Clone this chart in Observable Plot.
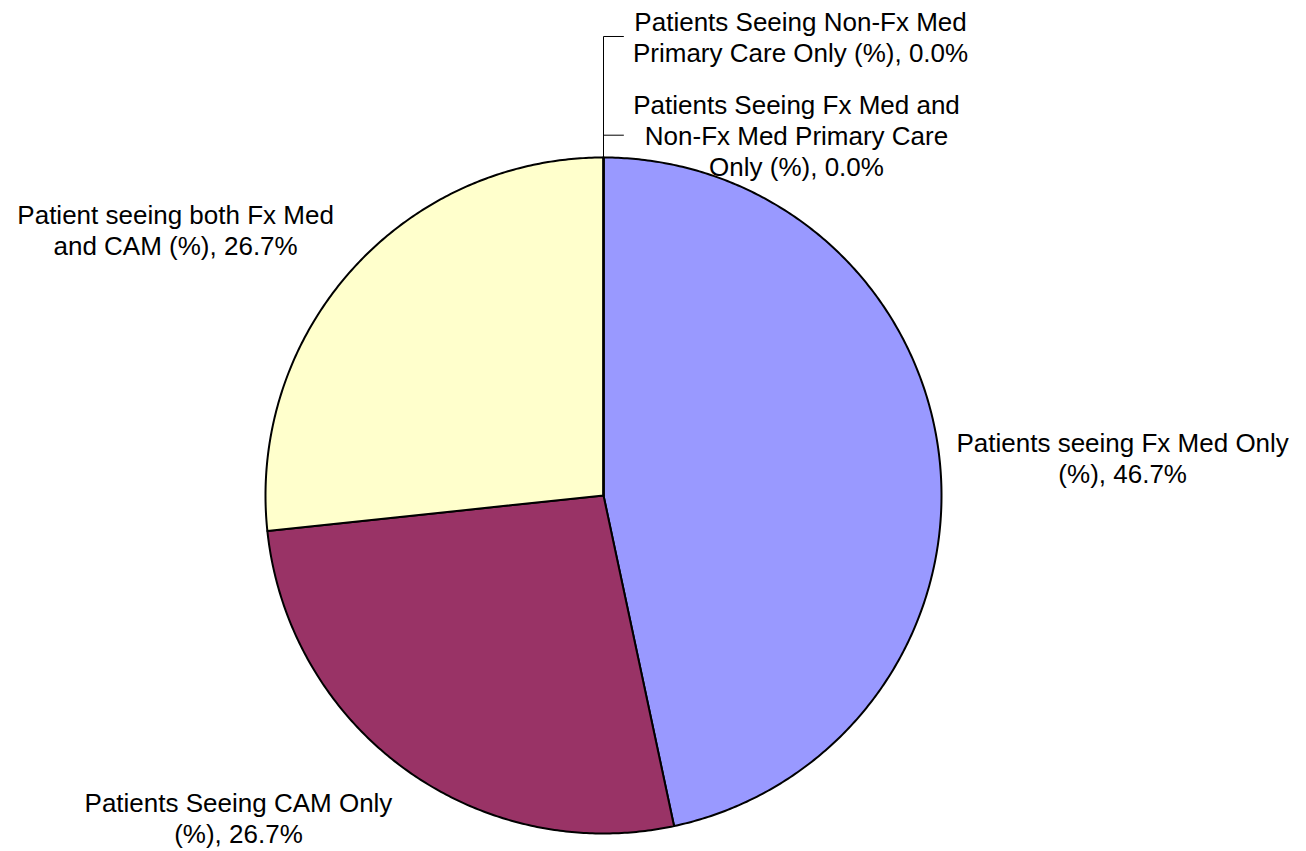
<!DOCTYPE html>
<html>
<head>
<meta charset="utf-8">
<script src="https://cdn.jsdelivr.net/npm/d3@7"></script>
<script src="https://cdn.jsdelivr.net/npm/@observablehq/plot@0.6"></script>
<style>
  html, body { margin: 0; padding: 0; background: #fff; }
  #chart svg { display: block; }
</style>
</head>
<body>
<div id="chart"></div>
<script>
// ---- data ----
const categories = [
  "Patients seeing Fx Med Only (%)",
  "Patients Seeing CAM Only (%)",
  "Patient seeing both Fx Med and CAM (%)",
  "Patients Seeing Non-Fx Med Primary Care Only (%)",
  "Patients Seeing Fx Med and Non-Fx Med Primary Care Only (%)"
];
const values = [46.7, 26.7, 26.7, 0.0, 0.0];
const wrappedNames = [
  "Patients seeing Fx Med Only\n(%)",
  "Patients Seeing CAM Only\n(%)",
  "Patient seeing both Fx Med\nand CAM (%)",
  "Patients Seeing Non-Fx Med\nPrimary Care Only (%)",
  "Patients Seeing Fx Med and\nNon-Fx Med Primary Care\nOnly (%)"
];
const colors = ["#9999FF", "#993366", "#FFFFCC", "#FFFFFF", "#CCFFFF"];

// ---- layout (unit-circle coordinates) ----
const labelPos = [
  {x: 1.536, y: 0.112},
  {x: -1.080, y: -0.953},
  {x: -1.266, y: 0.787},
  {x: 0.583, y: 1.358},
  {x: 0.571, y: 1.066}
];

// ---- geometry ----
const arcs = d3.pie().sort(null).startAngle(0).endAngle(2 * Math.PI)(values);
const slicePts = [];
arcs.forEach((a, i) => {
  const key = categories[i];
  slicePts.push({key, x: 0, y: 0});
  const span = a.endAngle - a.startAngle;
  const n = Math.max(1, Math.ceil(span / (Math.PI / 360)));
  for (let k = 0; k <= n; k++) {
    const t = a.startAngle + span * k / n;
    slicePts.push({key, x: Math.sin(t), y: Math.cos(t)});
  }
});

const labels = categories.map((c, i) => ({
  key: c,
  text: `${wrappedNames[i]}, ${values[i].toFixed(1)}%`,
  x: labelPos[i].x,
  y: labelPos[i].y
}));

// leader lines for zero-value slices (from slice top edge to label)
const leaders = [
  {id: "a", x: 0.059, y: labelPos[3].y},
  {id: "a", x: 0, y: labelPos[3].y},
  {id: "a", x: 0, y: 1},
  {id: "b", x: 0, y: labelPos[4].y},
  {id: "b", x: 0.059, y: labelPos[4].y}
];

const W = 1306, H = 851, cx = 603, cy = 495, R = 338;

const chart = Plot.plot({
  width: W,
  height: H,
  margin: 0,
  x: {domain: [-cx / R, (W - cx) / R], axis: null},
  y: {domain: [(cy - H) / R, cy / R], axis: null},
  color: {domain: categories, range: colors},
  style: {fontFamily: "'Liberation Sans', Arial, sans-serif", background: "#fff"},
  marks: [
    Plot.line(slicePts, {
      x: "x", y: "y", z: "key", fill: "key",
      stroke: "black", strokeWidth: 2, strokeLinejoin: "round",
      curve: "linear-closed"
    }),
    Plot.line(leaders, {x: "x", y: "y", z: "id", stroke: "black", strokeWidth: 1}),
    Plot.text(labels, {
      x: "x", y: "y", text: "text",
      textAnchor: "middle", lineAnchor: "middle",
      fontSize: 26, lineHeight: 1.19, fill: "black"
    })
  ]
});

document.getElementById("chart").appendChild(chart);
</script>
</body>
</html>
